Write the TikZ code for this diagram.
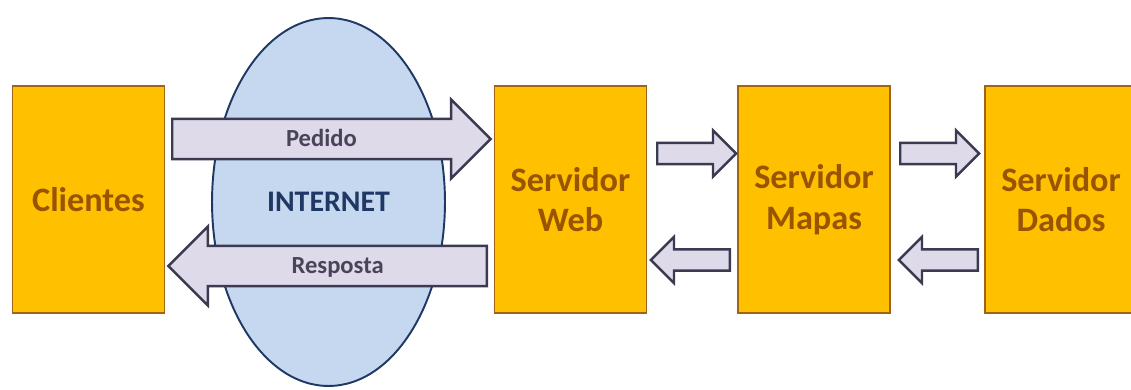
\documentclass[tikz,border=0pt]{standalone}
\usepackage{fontspec}
\setmainfont{Carlito}
\usepackage{xcolor}
\usepackage{tikz}
\usetikzlibrary{shapes.geometric,shapes.arrows}
\definecolor{boxfill}{RGB}{255,192,0}
\definecolor{boxline}{RGB}{160,100,20}
\definecolor{boxtext}{RGB}{152,84,0}
\definecolor{netfill}{RGB}{197,216,240}
\definecolor{netline}{RGB}{31,56,100}
\definecolor{arrfill}{RGB}{222,218,234}
\definecolor{arrline}{RGB}{58,58,80}
\definecolor{arrtext}{RGB}{75,68,89}

\begin{document}
\begin{tikzpicture}[x=0.02cm,y=-0.02cm]
		\tikzset{box/.style={draw=boxline, fill=boxfill, line width=0.85pt, minimum width=3.04cm, minimum height=4.54cm, text=boxtext, align=center, font=\fontsize{19.5}{23}\selectfont\bfseries}};
		\tikzset{bigarrow/.style={single arrow, draw=arrline, fill=arrfill, line width=1.4pt, inner xsep=0pt, inner ysep=3.75pt, text height=11pt, text depth=3pt, anchor=tail, text=arrtext, font=\fontsize{14}{16}\selectfont\bfseries, minimum height=6.37cm, minimum width=1.54cm, single arrow head extend=0.39cm}};
		\tikzset{smallarrow/.style={single arrow, draw=arrline, fill=arrfill, line width=1.4pt, inner xsep=0pt, inner ysep=5.4pt, text height=0pt, text depth=0pt, anchor=tail, minimum height=1.58cm, minimum width=0.88cm, single arrow head extend=0.25cm}};
		\useasboundingbox (0,0) rectangle (1131,389);
		
		\node[ellipse, draw=netline, fill=netfill, line width=1.1pt, minimum width=4.66cm, minimum height=7.36cm, text=netline, font=\fontsize{17}{20}\selectfont\bfseries] (net) at (328.5,202) {INTERNET};
		
		\node[box] (cli) at (88.5,199.5) {Clientes};
		\node[box] (web) at (570.5,199.5) {Servidor\\Web};
		\node[box] (map) at (814,199.5) {Servidor\\Mapas};
		\node[box] (dad) at (1061,199.5) {Servidor\\Dados};
		
		\node[bigarrow] (ped) at (171,139) {Pedido};
		\node[bigarrow, shape border rotate=180] (resp) at (488,266) {Resposta};
		
		\node[smallarrow] (wm) at (656,153.5) {};
		\node[smallarrow, shape border rotate=180] (mw) at (731,260) {};
		\node[smallarrow] (md) at (899,153.5) {};
		\node[smallarrow, shape border rotate=180] (dm) at (979,260) {};
			
	\end{tikzpicture}
\end{document}
